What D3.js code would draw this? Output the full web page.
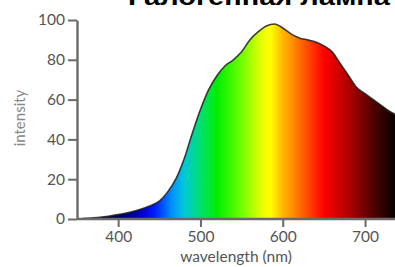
<!DOCTYPE html>
<html>
<head>
<meta charset="utf-8">
<script src="https://cdn.jsdelivr.net/npm/d3@7"></script>
<style>
  body { margin: 0; background: #fff; }
  svg { display: block; }
</style>
</head>
<body>
<div id="chart"></div>
<script>
// spectrum of a halogen lamp
var wavelengths = [350,360,370,380,390,400,410,420,430,440,450,460,470,480,490,500,510,520,530,540,
                   550,560,570,580,590,600,610,620,630,640,650,660,670,680,690,700,710,720,730,740];
var intensity =   [0,0.3,0.6,1,1.5,2.2,3,4,5.3,6.8,9,13.5,20,30,43,55,65,72,77,80,
                   84,90,94,97,98,96,93,91,90,89,87,84,78,72,66,63,60,57,54,52];
var xTicks = [400, 500, 600, 700];
var yTicks = [0, 20, 40, 60, 80, 100];
var titleText = "Галогенная лампа";

// colour stops of the visible spectrum (nm -> colour)
var stopNm =    [360, 400, 430, 445, 465, 480, 500, 520, 550, 575, 585, 600, 620, 650, 680, 710, 740];
var stopColor = ["#000010","#000060","#0000d0","#0020ff","#0090ff","#00c8d8","#00e070","#00ee00",
                 "#70ff00","#e8ff00","#ffff00","#ffb800","#ff7000","#ff0000","#b00000","#500000","#000000"];

var width = 395, height = 267;
var margin = {top: 20, right: 0, bottom: 48, left: 77};

var svg = d3.select("#chart").append("svg")
    .attr("width", width)
    .attr("height", height);

var x = d3.scaleLinear().domain([350, 740]).range([margin.left, margin.left + 390 * 0.823]);
var y = d3.scaleLinear().domain([0, 100]).range([219, 20]);

// gradient along wavelength
var grad = svg.append("defs").append("linearGradient")
    .attr("id", "spec")
    .attr("gradientUnits", "userSpaceOnUse")
    .attr("x1", x(350)).attr("x2", x(740))
    .attr("y1", 0).attr("y2", 0);
grad.selectAll("stop")
    .data(stopNm)
    .enter().append("stop")
    .attr("offset", function (d) { return (d - 350) / 390; })
    .attr("stop-color", function (d, i) { return stopColor[i]; });

var pts = wavelengths.map(function (w, i) { return [w, intensity[i]]; });

var area = d3.area()
    .x(function (d) { return x(d[0]); })
    .y0(y(0))
    .y1(function (d) { return y(d[1]); })
    .curve(d3.curveMonotoneX);

var line = d3.line()
    .x(function (d) { return x(d[0]); })
    .y(function (d) { return y(d[1]); })
    .curve(d3.curveMonotoneX);

svg.append("path")
    .datum(pts)
    .attr("d", area)
    .style("fill", "url(#spec)");

svg.append("path")
    .datum(pts)
    .attr("d", line)
    .style("fill", "none")
    .style("stroke", "#1e1e1e")
    .style("stroke-width", 1.6)
    .style("stroke-opacity", 0.85);

// axes
var gx = svg.append("g")
    .attr("transform", "translate(0," + y(0) + ")")
    .call(d3.axisBottom(x).tickValues(xTicks).tickSize(8).tickPadding(4).tickSizeOuter(0));
var gy = svg.append("g")
    .attr("transform", "translate(" + margin.left + ",0)")
    .call(d3.axisLeft(y).tickValues(yTicks).tickSize(9).tickPadding(3).tickSizeOuter(0));

[gx, gy].forEach(function (g) {
  g.select(".domain").style("stroke", "#6a6a6a").style("stroke-width", 2.4);
  g.selectAll(".tick line").style("stroke", "#6a6a6a").style("stroke-width", 2);
  g.selectAll(".tick text")
    .style("font-family", "Lato, 'DejaVu Sans', sans-serif")
    .style("font-size", "15.5px")
    .style("fill", "#555");
});
gx.select(".domain").attr("d", "M" + x(350) + ",0H" + width);

svg.append("text")
    .attr("x", 236)
    .attr("y", 262)
    .attr("text-anchor", "middle")
    .style("font-family", "Lato, 'DejaVu Sans', sans-serif")
    .style("font-size", "15.5px")
    .style("fill", "#555")
    .text("wavelength (nm)");

svg.append("text")
    .attr("transform", "translate(25,118) rotate(-90)")
    .attr("text-anchor", "middle")
    .style("font-family", "Lato, 'DejaVu Sans', sans-serif")
    .style("font-size", "15px")
    .style("fill", "#888")
    .text("intensity");

// title, cut off at the top edge as in the source
svg.append("text")
    .attr("x", 128)
    .attr("y", 5)
    .attr("textLength", 262)
    .attr("lengthAdjust", "spacingAndGlyphs")
    .style("font-family", "'Liberation Sans', Arial, sans-serif")
    .style("font-weight", "bold")
    .style("font-size", "24px")
    .style("fill", "#000")
    .text(titleText);
</script>
</body>
</html>
